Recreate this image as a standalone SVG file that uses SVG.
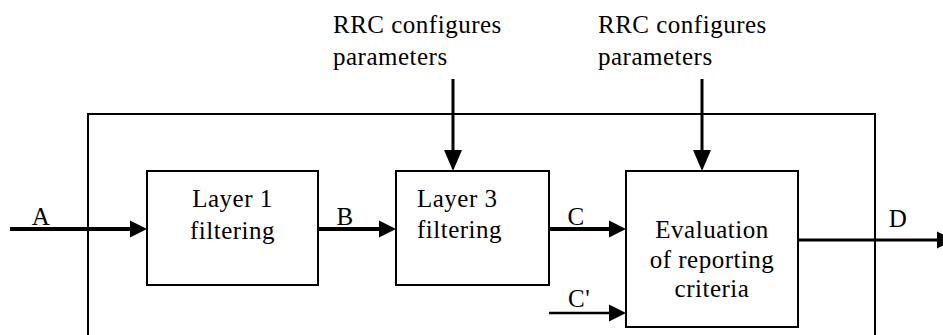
<svg xmlns="http://www.w3.org/2000/svg" width="943" height="335" viewBox="0 0 943 335">
<style>
text{font-family:"Liberation Serif","Times New Roman",serif;font-size:25px;letter-spacing:0.5px;fill:#000}
.box{fill:none;stroke:#000;stroke-width:2}
.c{fill:none;stroke:#000}
.th{stroke-width:4}
.md{stroke-width:3}
.tn{stroke-width:2.5}
.mid{text-anchor:middle}
</style>
<defs>
<marker id="ah" markerUnits="userSpaceOnUse" markerWidth="18" markerHeight="18" refX="0" refY="8.5" orient="auto" overflow="visible">
<path d="M0,0 L17,8.5 L0,17 z" fill="#000"/>
</marker>
<marker id="ahd" markerUnits="userSpaceOnUse" markerWidth="22" markerHeight="20" refX="0" refY="9" orient="auto" overflow="visible">
<path d="M0,0 L21,9 L0,18 z" fill="#000"/>
</marker>
</defs>
<g id="frame"><rect class="box" x="88" y="114" width="787" height="260"/></g>
<g id="labels-top">
<text x="333" y="33">RRC configures</text>
<text x="333" y="65">parameters</text>
<text x="598" y="33">RRC configures</text>
<text x="598" y="65">parameters</text>
</g>
<g id="layer1">
<rect class="box" x="147" y="171" width="171" height="114"/>
<text class="mid" x="232.5" y="207">Layer 1</text>
<text class="mid" x="232.5" y="239">filtering</text>
</g>
<g id="layer3">
<rect class="box" x="396" y="171" width="153" height="114"/>
<text x="417" y="207">Layer 3</text>
<text x="417" y="238">filtering</text>
</g>
<g id="evaluation">
<rect class="box" x="626" y="171" width="172" height="156"/>
<text class="mid" x="712" y="238">Evaluation</text>
<text class="mid" x="712" y="268">of reporting</text>
<text class="mid" x="712" y="297">criteria</text>
</g>
<g id="connectors">
<line class="c th" x1="10" y1="229" x2="130" y2="229" marker-end="url(#ah)"/>
<line class="c th" x1="318" y1="229" x2="379" y2="229" marker-end="url(#ah)"/>
<line class="c th" x1="549" y1="229" x2="609" y2="229" marker-end="url(#ah)"/>
<line class="c tn" x1="549" y1="313" x2="609" y2="313" marker-end="url(#ah)"/>
<line class="c md" x1="798" y1="240" x2="937" y2="240" marker-end="url(#ah)"/>
<line class="c md" x1="453" y1="79" x2="453" y2="150" marker-end="url(#ahd)"/>
<line class="c md" x1="702" y1="79" x2="702" y2="150" marker-end="url(#ahd)"/>
</g>
<g id="connector-labels">
<text class="mid" x="41" y="225">A</text>
<text class="mid" x="345" y="225">B</text>
<text class="mid" x="576" y="225">C</text>
<text x="568" y="307">C'</text>
<text class="mid" x="898" y="227">D</text>
</g>
</svg>
